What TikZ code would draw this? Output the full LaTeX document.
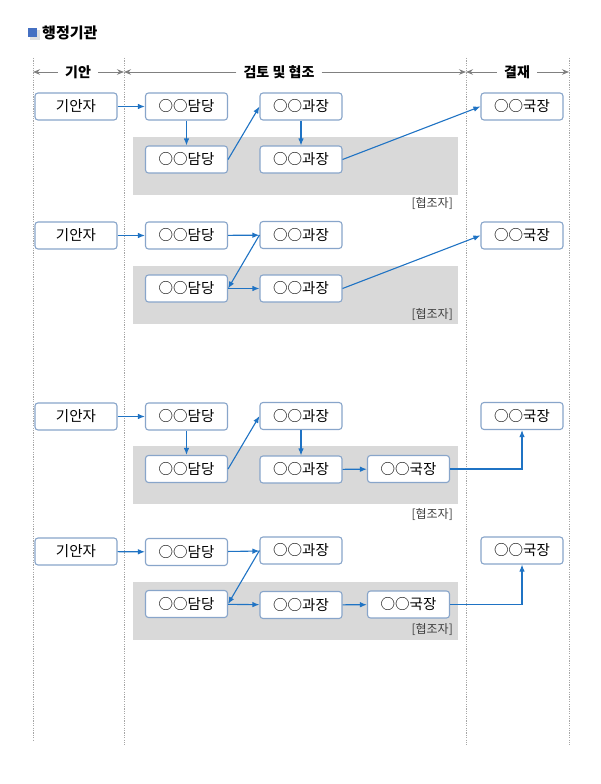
\documentclass[tikz,border=0pt]{standalone}
\usepackage{fontspec}
\setmainfont{Noto Sans CJK KR}
\usepackage{tikz}
\usetikzlibrary{positioning, arrows.meta}
\definecolor{flowblue}{HTML}{1F73C4}
\definecolor{boxline}{HTML}{88A5CA}
\definecolor{bandgray}{HTML}{D9D9D9}
\definecolor{guidegray}{HTML}{A6A6A6}
\definecolor{headgray}{HTML}{808080}
\definecolor{markblue}{HTML}{4570C2}

\tikzset{
  person/.style={draw=boxline, fill=white, rounded corners=3pt, line width=1.1pt,
    minimum width=82pt, minimum height=27pt, inner sep=0pt,
    font=\fontsize{14.5}{16}\selectfont, text=black},
  flow/.style={draw=flowblue, line width=1.1pt, -{Latex[length=7pt,width=5.5pt]}},
  guide/.style={draw=guidegray, line width=0.7pt, dash pattern=on 1.2pt off 1.2pt},
  phase/.style={font=\fontsize{14}{16}\selectfont\bfseries, inner xsep=7pt, inner ysep=0pt},
  span/.style={draw=headgray, line width=0.9pt, -{Stealth[length=7pt,width=5.5pt]}},
  band/.style={fill=bandgray, draw=none},
  helper/.style={font=\fontsize{12}{14}\selectfont, text=black!75, anchor=east, inner sep=0pt}
}

\begin{document}
\begin{tikzpicture}[x=1pt, y=-1pt]
  \fill[white] (0,0) rectangle (600,784);
  \useasboundingbox (0,0) rectangle (600,784);

  \fill[black!12] (29.5,30.5) rectangle (39.5,40.5);
  \node[fill=markblue, minimum size=9pt, inner sep=0pt] (titlemark) at (32.5,33) {};
  \node[anchor=west, inner sep=0pt, font=\fontsize{15}{17}\selectfont\bfseries] (title) at (42,33) {행정기관};

  \draw[guide] (33,58) -- (33,740);
  \draw[guide] (124,58) -- (124,745);
  \draw[guide] (466,58) -- (466,745);
  \draw[guide] (569,58) -- (569,745);
  \coordinate (gA) at (33,72);
  \coordinate (gB) at (124,72);
  \coordinate (gC) at (466,72);
  \coordinate (gD) at (569,72);

  \node[phase] (hdgian) at (78,72) {기안};
  \node[phase] (hdreview) at (279,72) {검토 및 협조};
  \node[phase] (hdsign) at (517,72) {결재};
  \draw[span] (hdgian.west) -- (gA);
  \draw[span] (hdgian.east) -- (gB);
  \draw[span] (hdreview.west) -- (gB);
  \draw[span] (hdreview.east) -- (gC);
  \draw[span] (hdsign.west) -- (gC);
  \draw[span] (hdsign.east) -- (gD);

  \fill[band] (133,137) rectangle (458,195);
  \fill[band] (133,266) rectangle (458,324);
  \fill[band] (133,446) rectangle (458,504);
  \fill[band] (133,582) rectangle (458,640);

  \node[person] (r1gian) at (76,106.5) {기안자};
  \node[person] (r1dam) at (186.5,106.5) {○○담당};
  \node[person] (r1gwa) at (301,106.5) {○○과장};
  \node[person] (r1guk) at (522,106.5) {○○국장};
  \node[person] (r1dam2) at (186.5,159.5) {○○담당};
  \node[person] (r1gwa2) at (301,159.5) {○○과장};
  \node[helper] (r1help) at (453,204) {[협조자]};
  \draw[flow] (r1gian) -- (r1dam);
  \draw[flow] (r1dam) -- (r1dam2);
  \draw[flow] (r1dam2.east) -- (r1gwa.west);
  \draw[flow] (r1gwa) -- (r1gwa2);
  \draw[flow] (r1gwa2.east) -- (r1guk.west);

  \node[person] (r2gian) at (76,235.5) {기안자};
  \node[person] (r2dam) at (186.5,235.5) {○○담당};
  \node[person] (r2gwa) at (301,235) {○○과장};
  \node[person] (r2guk) at (522,235.5) {○○국장};
  \node[person] (r2dam2) at (186.5,288.5) {○○담당};
  \node[person] (r2gwa2) at (301,288.5) {○○과장};
  \node[helper] (r2help) at (453,315) {[협조자]};
  \draw[flow] (r2gian) -- (r2dam);
  \draw[flow] (r2dam) -- (r2gwa);
  \draw[flow] (r2gwa.west) -- (r2dam2.east);
  \draw[flow] (r2dam2.east) -- (r2gwa2.west);
  \draw[flow] (r2gwa2.east) -- (r2guk.west);

  \node[person] (r3gian) at (76,416.5) {기안자};
  \node[person] (r3dam) at (186.5,416.5) {○○담당};
  \node[person] (r3gwa) at (301,416) {○○과장};
  \node[person] (r3guk) at (522,416) {○○국장};
  \node[person] (r3dam2) at (186.5,469) {○○담당};
  \node[person] (r3gwa2) at (301,469.5) {○○과장};
  \node[person] (r3guk2) at (408.5,469) {○○국장};
  \node[helper] (r3help) at (453,515) {[협조자]};
  \draw[flow] (r3gian) -- (r3dam);
  \draw[flow] (r3dam) -- (r3dam2);
  \draw[flow] (r3dam2.east) -- (r3gwa.west);
  \draw[flow] (r3gwa) -- (r3gwa2);
  \draw[flow] (r3gwa2) -- (r3guk2);
  \draw[flow] (r3guk2) -| (r3guk);

  \node[person] (r4gian) at (76,551.5) {기안자};
  \node[person] (r4dam) at (186.5,552) {○○담당};
  \node[person] (r4gwa) at (301,550.5) {○○과장};
  \node[person] (r4guk) at (522,550.5) {○○국장};
  \node[person] (r4dam2) at (186.5,604) {○○담당};
  \node[person] (r4gwa2) at (301,605) {○○과장};
  \node[person] (r4guk2) at (408.5,604.5) {○○국장};
  \node[helper] (r4help) at (453,630) {[협조자]};
  \draw[flow] (r4gian) -- (r4dam);
  \draw[flow] (r4dam) -- (r4gwa);
  \draw[flow] (r4gwa.west) -- (r4dam2.east);
  \draw[flow] (r4dam2) -- (r4gwa2);
  \draw[flow] (r4gwa2) -- (r4guk2);
  \draw[flow] (r4guk2) -| (r4guk);
\end{tikzpicture}
\end{document}
